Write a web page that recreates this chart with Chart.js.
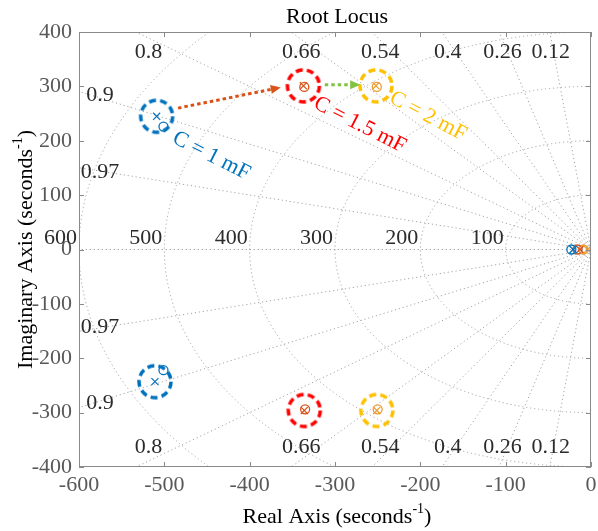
<!DOCTYPE html>
<html>
<head>
<meta charset="utf-8">
<title>Root Locus</title>
<script src="https://cdn.jsdelivr.net/npm/chart.js@4.4.1/dist/chart.umd.min.js"></script>
<style>
  html, body { margin: 0; padding: 0; background: #fff; }
  #wrap { width: 598px; height: 531px; }
</style>
</head>
<body>
<div id="wrap"><canvas id="chart" width="598" height="531"></canvas></div>
<script>
/* ================= DATA ================= */
const xTickValues = [-600, -500, -400, -300, -200, -100, 0];
const yTickValues = [-400, -300, -200, -100, 0, 100, 200, 300, 400];

// sgrid
const dampingRatios = [0.12, 0.26, 0.4, 0.54, 0.66, 0.8, 0.9, 0.97];
const naturalFreqs = [100, 200, 300, 400, 500, 600];

// C = 1 mF
const c1PoleRe = [-509, -511, -21];
const c1PoleIm = [245, -243, 0];
const c1ZeroRe = [-501, -501, -23];
const c1ZeroIm = [226, -222, 0];

// C = 1.5 mF
const c15PoleRe = [-337, -336, -13];
const c15PoleIm = [301, -296, 0];
const c15ZeroRe = [-336, -335, -16];
const c15ZeroIm = [299, -294, 0];

// C = 2 mF
const c2PoleRe = [-252, -251, -4];
const c2PoleIm = [301, -296, 0];
const c2ZeroRe = [-251, -250, -9];
const c2ZeroIm = [299, -294, 0];

// arrows between the highlighted poles
const arrow1Re = [-484, -367];
const arrow1Im = [260, 297];
const arrow2Re = [-312, -274];
const arrow2Im = [303, 303];

/* ================= STYLE ================= */
const FONT = "'Liberation Serif', 'Times New Roman', serif";
const BLUE = '#0072BD';
const RED = '#FF0000';
const YELLOW = '#FFC000';
const ORANGE = '#D95319';
const LIGHT_ORANGE = '#EE9A2E';
const GREEN = '#80C342';
const GRID = '#a3a3a3';

const pts = (re, im) => re.map((v, i) => ({ x: v, y: im[i] }));

// dashed ring used as a point style
function makeRing(color) {
  const c = document.createElement('canvas');
  c.width = 40; c.height = 40;
  const g = c.getContext('2d');
  g.strokeStyle = color;
  g.lineWidth = 3.5;
  g.setLineDash([7, 4.2]);
  g.beginPath();
  g.arc(20, 20, 16, 0, Math.PI * 2);
  g.stroke();
  return c;
}

function ringSet(re, im, color) {
  return {
    data: pts(re.slice(0, 2), im.slice(0, 2)),
    pointStyle: makeRing(color),
    pointRadius: 18,
    showLine: false
  };
}
function poleSet(re, im, color) {
  return {
    data: pts(re, im),
    pointStyle: 'crossRot',
    pointRadius: 5,
    pointBorderWidth: 1.2,
    borderColor: color,
    backgroundColor: color,
    showLine: false
  };
}
function zeroSet(re, im, color) {
  return {
    data: pts(re, im),
    pointStyle: 'circle',
    pointRadius: 4.5,
    pointBorderWidth: 1.3,
    borderColor: color,
    backgroundColor: 'rgba(0,0,0,0)',
    showLine: false
  };
}
function arrowSet(re, im, color) {
  return {
    data: pts(re, im),
    showLine: true,
    borderColor: color,
    borderWidth: 3,
    borderDash: [3.5, 3],
    pointRadius: 0,
    isArrow: true
  };
}

const notes = [
  { text: 'C = 1 mF', re: -445, im: 172, color: BLUE, angle: 27 },
  { text: 'C = 1.5 mF', re: -271, im: 229, color: RED, angle: 27 },
  { text: 'C = 2 mF', re: -191, im: 245, color: YELLOW, angle: 28 }
];

/* ================= HELPERS ================= */
function supText(ctx, cx, cy, rot, main, sup, tail, size) {
  ctx.save();
  ctx.translate(cx, cy);
  ctx.rotate(rot);
  ctx.textAlign = 'left';
  ctx.textBaseline = 'alphabetic';
  const big = size + 'px ' + FONT;
  const small = Math.round(size * 0.65) + 'px ' + FONT;
  ctx.font = big;
  const w1 = ctx.measureText(main).width;
  const w3 = ctx.measureText(tail).width;
  ctx.font = small;
  const w2 = ctx.measureText(sup).width;
  let x0 = -(w1 + w2 + w3) / 2;
  ctx.font = big;
  ctx.fillText(main, x0, 0);
  ctx.font = small;
  ctx.fillText(sup, x0 + w1, -size * 0.45);
  ctx.font = big;
  ctx.fillText(tail, x0 + w1 + w2, 0);
  ctx.restore();
}

/* ================= SGRID + FRAME PLUGIN ================= */
const sgridPlugin = {
  id: 'sgrid',
  beforeDatasetsDraw(chart) {
    const { ctx, chartArea: a, scales: { x, y } } = chart;
    const ox = x.getPixelForValue(0), oy = y.getPixelForValue(0);
    ctx.save();
    ctx.beginPath();
    ctx.rect(a.left, a.top, a.right - a.left, a.bottom - a.top);
    ctx.clip();
    ctx.strokeStyle = GRID;
    ctx.lineWidth = 1;
    ctx.setLineDash([1.2, 2.8]);
    naturalFreqs.forEach(wn => {
      const rx = ox - x.getPixelForValue(-wn);
      const ry = oy - y.getPixelForValue(wn);
      ctx.beginPath();
      ctx.ellipse(ox, oy, rx, ry, 0, Math.PI / 2, Math.PI * 1.5);
      ctx.stroke();
    });
    [...dampingRatios, 1].forEach(z => {
      const r = 3000, re = -z * r, im = Math.sqrt(1 - z * z) * r;
      [im, -im].forEach(v => {
        ctx.beginPath();
        ctx.moveTo(ox, oy);
        ctx.lineTo(x.getPixelForValue(re), y.getPixelForValue(v));
        ctx.stroke();
      });
    });
    ctx.restore();

    // grid labels
    ctx.save();
    ctx.fillStyle = '#2b2b2b';
    ctx.font = '22px ' + FONT;
    ctx.textAlign = 'center';
    ctx.textBaseline = 'middle';
    dampingRatios.forEach(z => {
      const s = Math.sqrt(1 - z * z);
      const xTop = -y.max * z / s;
      if (xTop > x.min) {
        const px = x.getPixelForValue(xTop) + 17 * z - 1;
        ctx.fillText(String(z), px, a.top + 20);
        ctx.fillText(String(z), px, a.bottom - 20);
      } else {
        const yl = -x.min * s / z;
        ctx.fillText(String(z), a.left + 21, y.getPixelForValue(yl) + 4);
        ctx.fillText(String(z), a.left + 21, y.getPixelForValue(-yl) - 4);
      }
    });
    ctx.textAlign = 'right';
    ctx.textBaseline = 'alphabetic';
    naturalFreqs.forEach(wn => {
      ctx.fillText(String(wn), x.getPixelForValue(-wn) - 2, oy - 6);
    });
    ctx.restore();
  },
  afterDraw(chart) {
    const { ctx, chartArea: a, scales: { x, y } } = chart;
    ctx.save();
    // frame and inward ticks
    ctx.strokeStyle = '#8a8a8a';
    ctx.lineWidth = 1;
    ctx.strokeRect(a.left + 0.5, a.top + 0.5, a.right - a.left - 1, a.bottom - a.top - 1);
    ctx.beginPath();
    xTickValues.forEach(v => {
      const px = Math.round(x.getPixelForValue(v)) + 0.5;
      ctx.moveTo(px, a.bottom); ctx.lineTo(px, a.bottom - 5);
      ctx.moveTo(px, a.top); ctx.lineTo(px, a.top + 5);
    });
    yTickValues.forEach(v => {
      const py = Math.round(y.getPixelForValue(v)) + 0.5;
      ctx.moveTo(a.left, py); ctx.lineTo(a.left + 5, py);
      ctx.moveTo(a.right, py); ctx.lineTo(a.right - 5, py);
    });
    ctx.stroke();

    // arrow heads
    chart.data.datasets.forEach((ds, i) => {
      if (!ds.isArrow) return;
      const d = chart.getDatasetMeta(i).data;
      const p0 = d[0], p1 = d[d.length - 1];
      const ang = Math.atan2(p1.y - p0.y, p1.x - p0.x);
      ctx.save();
      ctx.translate(p1.x, p1.y);
      ctx.rotate(ang);
      ctx.fillStyle = ds.borderColor;
      ctx.beginPath();
      ctx.moveTo(3, 0);
      ctx.lineTo(-7, -4.5);
      ctx.lineTo(-7, 4.5);
      ctx.closePath();
      ctx.fill();
      ctx.restore();
    });

    // annotations
    notes.forEach(n => {
      ctx.save();
      ctx.translate(x.getPixelForValue(n.re), y.getPixelForValue(n.im));
      ctx.rotate(n.angle * Math.PI / 180);
      ctx.fillStyle = n.color;
      ctx.font = '22px ' + FONT;
      ctx.textAlign = 'center';
      ctx.textBaseline = 'middle';
      ctx.fillText(n.text, 0, 0);
      ctx.restore();
    });

    // title and axis titles
    const cx = (a.left + a.right) / 2, cy = (a.top + a.bottom) / 2;
    ctx.fillStyle = '#000';
    ctx.font = '22px ' + FONT;
    ctx.textAlign = 'center';
    ctx.textBaseline = 'alphabetic';
    ctx.fillText('Root Locus', cx + 2, 23);
    supText(ctx, cx + 2, 523, 0, 'Real Axis (seconds', '-1', ')', 22);
    supText(ctx, 32, cy, -Math.PI / 2, 'Imaginary Axis (seconds', '-1', ')', 22);
    ctx.restore();
  }
};

/* ================= CHART ================= */
const tickFont = { family: FONT, size: 22 };

new Chart(document.getElementById('chart').getContext('2d'), {
  type: 'scatter',
  data: {
    datasets: [
      arrowSet(arrow1Re, arrow1Im, ORANGE),
      arrowSet(arrow2Re, arrow2Im, GREEN),
      ringSet(c1PoleRe, c1PoleIm, BLUE),
      ringSet(c15PoleRe, c15PoleIm, RED),
      ringSet(c2PoleRe, c2PoleIm, YELLOW),
      zeroSet(c1ZeroRe, c1ZeroIm, BLUE),
      poleSet(c1PoleRe, c1PoleIm, BLUE),
      zeroSet(c15ZeroRe, c15ZeroIm, ORANGE),
      poleSet(c15PoleRe, c15PoleIm, ORANGE),
      zeroSet(c2ZeroRe, c2ZeroIm, LIGHT_ORANGE),
      poleSet(c2PoleRe, c2PoleIm, LIGHT_ORANGE)
    ]
  },
  options: {
    responsive: false,
    animation: false,
    layout: { autoPadding: false, padding: { top: 32, right: 7, left: 0, bottom: 0 } },
    plugins: {
      legend: { display: false },
      title: { display: false },
      tooltip: { enabled: false }
    },
    scales: {
      x: {
        type: 'linear',
        min: -600,
        max: 0,
        afterBuildTicks: s => { s.ticks = xTickValues.map(v => ({ value: v })); },
        afterFit: s => { s.height = 64; s.paddingLeft = 0; s.paddingRight = 0; },
        grid: { display: false, drawTicks: false },
        border: { display: false },
        ticks: { font: tickFont, color: '#595959', padding: 5, maxRotation: 0, autoSkip: false }
      },
      y: {
        type: 'linear',
        min: -400,
        max: 400,
        afterBuildTicks: s => { s.ticks = yTickValues.map(v => ({ value: v })); },
        afterFit: s => { s.width = 79; s.paddingTop = 0; s.paddingBottom = 0; },
        grid: { display: false, drawTicks: false },
        border: { display: false },
        ticks: { font: tickFont, color: '#595959', padding: 7, autoSkip: false }
      }
    }
  },
  plugins: [sgridPlugin]
});
</script>
</body>
</html>
